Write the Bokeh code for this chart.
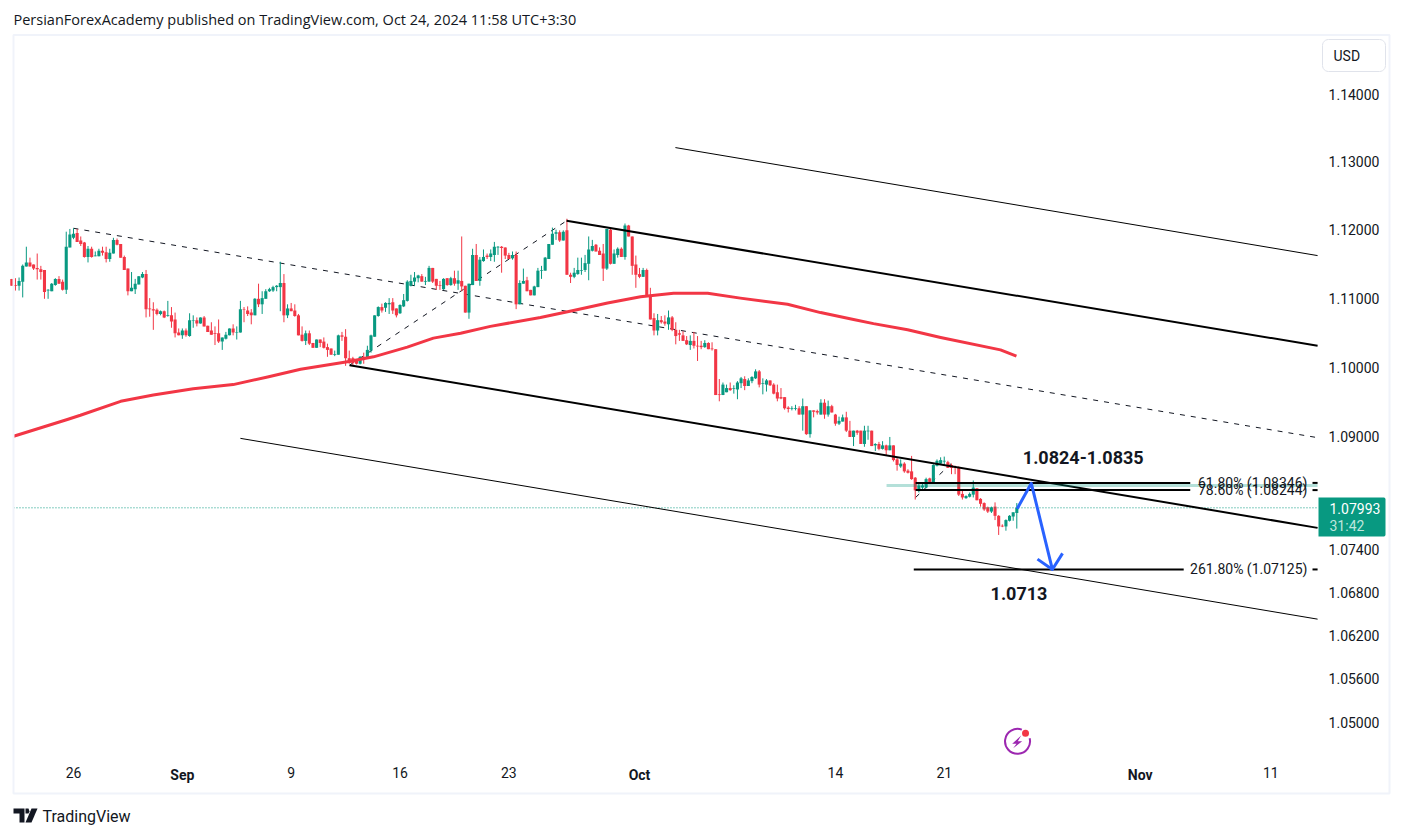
from bokeh.plotting import figure
from bokeh.models import Range1d, FixedTicker, PrintfTickFormatter, Label, PolyAnnotation, ColumnDataSource, LinearAxis
from bokeh.core.properties import value
from bokeh.embed import file_html
from bokeh.resources import INLINE
import math

# EUR/USD 4h candles, values in pips (1.1128 -> 11128); first candle is index -17
FIRST_INDEX = -17
open_pips = [11128,
 11119,11118,11124,11146,11152,11149,11144,11142,11141,11111,
 11110,11119,11128,11124,11112,11174,11188,11195,11184,11181,
 11160,11172,11161,11161,11169,11167,11157,11165,11185,11179,
 11160,11143,11110,11113,11120,11130,11135,11085,11084,11083,
 11077,11081,11074,11075,11069,11050,11046,11053,11045,11067,
 11068,11063,11072,11060,11053,11049,11049,11037,11041,11046,
 11056,11050,11050,11084,11082,11079,11075,11099,11091,11099,
 11110,11111,11116,11116,11122,11075,11085,11082,11075,11047,
 11038,11049,11035,11028,11040,11037,11029,11027,11018,11018,
 11046,11044,11013,11013,11010,11005,11015,11013,11024,11044,
 11074,11087,11086,11091,11094,11085,11078,11088,11096,11118,
 11124,11129,11132,11124,11124,11144,11128,11119,11113,11129,
 11119,11129,11121,11125,11118,11079,11119,11163,11125,11154,
 11162,11160,11163,11174,11175,11174,11163,11158,11163,11091,
 11121,11126,11112,11104,11116,11140,11140,11157,11178,11194,
 11196,11184,11199,11134,11131,11135,11140,11141,11150,11169,
 11178,11169,11165,11143,11200,11150,11163,11172,11160,11206,
 11190,11149,11135,11131,11141,11103,11071,11053,11068,11066,
 11062,11072,11054,11049,11046,11039,11032,11038,11031,11031,
 11029,11035,11027,11026,10961,10960,10964,10970,10969,10968,
 10977,10983,10973,10980,10984,10994,10976,10975,10981,10975,
 10964,10957,10957,10942,10940,10940,10941,10932,10944,10904,
 10938,10937,10932,10949,10932,10944,10932,10919,10922,10928,
 10909,10900,10909,10909,10890,10908,10909,10888,10890,10883,
 10888,10881,10888,10868,10858,10862,10852,10851,10842,10823,
 10828,10828,10841,10835,10859,10862,10865,10864,10860,10857,
 10857,10819,10813,10815,10818,10827,10812,10806,10800,10794,
 10801,10788,10774,10773,10781,10787,10792]
high_pips = [11128,
 11129,11130,11149,11175,11159,11149,11165,11147,11141,11113,
 11122,11129,11132,11127,11197,11201,11202,11201,11190,11182,
 11176,11175,11168,11172,11175,11175,11172,11188,11187,11179,
 11162,11143,11138,11128,11132,11138,11141,11100,11094,11085,
 11082,11082,11096,11087,11079,11056,11056,11056,11078,11075,
 11072,11072,11074,11060,11065,11059,11069,11043,11051,11056,
 11062,11059,11096,11087,11088,11084,11100,11121,11110,11113,
 11115,11118,11119,11153,11135,11091,11093,11091,11077,11059,
 11053,11053,11035,11040,11040,11043,11034,11027,11024,11047,
 11051,11055,11024,11015,11011,11016,11021,11031,11047,11075,
 11088,11092,11094,11100,11100,11085,11091,11106,11126,11134,
 11138,11134,11135,11131,11147,11144,11128,11125,11129,11129,
 11131,11140,11140,11190,11118,11121,11172,11179,11160,11171,
 11165,11171,11182,11176,11176,11174,11166,11168,11168,11126,
 11143,11131,11112,11118,11144,11147,11160,11179,11203,11200,
 11199,11199,11216,11137,11144,11159,11159,11163,11190,11185,
 11179,11174,11179,11201,11201,11171,11174,11174,11209,11207,
 11190,11162,11144,11144,11143,11115,11078,11077,11074,11075,
 11082,11074,11065,11054,11052,11045,11046,11051,11045,11038,
 11039,11036,11036,11026,10983,10978,10975,10978,10974,10980,
 10986,10987,10984,10987,10997,10996,10984,10983,10981,10977,
 10975,10970,10957,10944,10944,10946,10944,10955,10944,10938,
 10938,10939,10954,10954,10952,10946,10933,10929,10932,10936,
 10923,10909,10910,10909,10916,10916,10909,10891,10893,10894,
 10889,10900,10888,10870,10868,10864,10854,10873,10843,10833,
 10835,10842,10842,10861,10868,10871,10872,10866,10862,10859,
 10858,10824,10817,10821,10838,10827,10813,10807,10801,10801,
 10807,10789,10776,10783,10789,10793,10806]
low_pips = [11118,
 11111,11111,11101,11146,11146,11141,11127,11127,11099,11099,
 11110,11118,11121,11111,11106,11174,11186,11182,11176,11159,
 11152,11159,11161,11161,11162,11152,11153,11165,11177,11159,
 11141,11104,11110,11106,11120,11129,11072,11073,11054,11075,
 11075,11071,11073,11057,11043,11046,11041,11044,11044,11057,
 11059,11063,11059,11051,11047,11032,11035,11025,11040,11046,
 11046,11040,11050,11065,11074,11062,11075,11087,11077,11099,
 11109,11109,11110,11081,11065,11071,11081,11073,11046,11037,
 11032,11032,11028,11028,11029,11027,11015,11018,11016,11018,
 11038,11002,11005,11003,11004,11004,11005,11012,11021,11044,
 11073,11079,11080,11077,11077,11072,11077,11087,11095,11117,
 11118,11123,11124,11119,11124,11122,11112,11112,11112,11118,
 11118,11118,11112,11110,11079,11070,11119,11125,11118,11153,
 11157,11154,11153,11163,11137,11157,11157,11156,11084,11091,
 11121,11110,11104,11104,11116,11128,11140,11157,11178,11185,
 11182,11184,11134,11122,11129,11134,11134,11138,11126,11168,
 11168,11163,11125,11141,11149,11150,11159,11160,11156,11190,
 11134,11115,11129,11131,11102,11069,11046,11046,11063,11060,
 11054,11052,11033,11038,11038,11032,11025,11027,11009,11026,
 11028,11026,11024,10960,10951,10960,10964,10966,10962,10954,
 10970,10967,10973,10977,10983,10971,10961,10965,10973,10961,
 10951,10954,10939,10935,10938,10938,10932,10909,10903,10899,
 10928,10932,10932,10926,10929,10935,10916,10917,10922,10907,
 10900,10887,10903,10890,10886,10896,10887,10880,10881,10882,
 10874,10881,10865,10852,10856,10849,10848,10839,10811,10821,
 10826,10827,10834,10834,10858,10860,10860,10856,10847,10847,
 10816,10811,10812,10814,10814,10810,10801,10795,10792,10792,
 10782,10761,10772,10767,10780,10781,10770]
close_pips = [11118,
 11118,11125,11147,11152,11146,11143,11142,11138,11109,11112,
 11121,11128,11121,11112,11175,11193,11194,11182,11179,11160,
 11172,11160,11162,11169,11166,11157,11166,11185,11178,11159,
 11141,11110,11115,11121,11132,11135,11084,11084,11082,11077,
 11081,11072,11075,11066,11049,11046,11053,11046,11068,11068,
 11063,11072,11059,11051,11047,11048,11037,11043,11047,11056,
 11050,11051,11084,11083,11077,11075,11099,11091,11100,11110,
 11113,11116,11118,11122,11075,11085,11081,11074,11046,11038,
 11049,11034,11028,11040,11035,11028,11025,11018,11019,11046,
 11044,11013,11006,11006,11005,11015,11013,11025,11046,11075,
 11087,11082,11093,11093,11082,11075,11090,11097,11124,11125,
 11130,11133,11124,11125,11144,11124,11118,11118,11128,11119,
 11129,11121,11126,11117,11079,11121,11163,11125,11156,11160,
 11160,11165,11175,11175,11173,11162,11157,11163,11091,11122,
 11125,11110,11104,11117,11140,11141,11159,11179,11194,11196,
 11184,11197,11134,11131,11137,11141,11141,11151,11171,11176,
 11168,11163,11143,11201,11150,11165,11172,11160,11206,11190,
 11147,11134,11131,11141,11102,11069,11053,11068,11065,11063,
 11072,11054,11045,11047,11038,11033,11038,11031,11030,11029,
 11035,11026,11026,10960,10960,10975,10970,10967,10970,10978,
 10984,10973,10981,10986,10994,10975,10977,10981,10974,10962,
 10955,10955,10941,10940,10941,10941,10932,10944,10904,10938,
 10936,10935,10949,10932,10944,10935,10919,10923,10928,10909,
 10900,10909,10906,10890,10909,10909,10887,10890,10883,10888,
 10881,10888,10867,10860,10862,10851,10849,10840,10824,10831,
 10831,10840,10836,10860,10866,10867,10866,10856,10856,10856,
 10818,10814,10816,10819,10828,10810,10805,10797,10794,10800,
 10788,10773,10773,10782,10788,10793,10799.3]

# moving average, read at a few bars
ema_bar = [-16.5,-1.7,1.9,13,22,33,44,53.5,62.6,75.5,82.7,92,99.2,106.7,114.9,128.7,137.8,147.2,156.3,165.4,174.8,183.8,196.8,205.9,215,220.5,229.9,239,255.5,259.9]
ema_price = [1.0901,1.0925,1.0931,1.0951,1.0960,1.0969,1.0975,1.0986,1.0997,1.1008,1.1015,1.1029,1.1042,1.1049,1.1059,1.1072,1.1082,1.1093,1.1102,1.1107,1.1107,1.1100,1.1091,1.1079,1.1069,1.1063,1.1054,1.1043,1.1025,1.1016]

LAST_BAR = 342.9
FIRST_BAR = -16.54
# trend lines: bar0, price0, bar1, price1
channel_top_thin = (165.9, 1.1321, LAST_BAR, 1.1162)
channel_top = (135.9, 1.1213, LAST_BAR, 1.1031)
channel_bottom = (76.1, 1.1003, LAST_BAR, 1.0771)
channel_bottom_thin = (46.0, 1.0898, LAST_BAR, 1.0643)
median_dashed = (0, 1.1202, LAST_BAR, 1.0899)
swing_dashed = (76.1, 1.1003, 135.9, 1.1213)
fib_swing_dashed = (232.1, 1.0814, 242.3, 1.0864)

last_price = 1.07993
fib_levels = [1.08346, 1.08244, 1.07125]
fib_texts = ["61.80% (1.08346)", "78.60% (1.08244)", "261.80% (1.07125)"]
fib_starts = [232.1, 232.1, 231.6]
fib_ends = [307.8, 307.8, 306.0]
zone_price = 1.0831
zone_start = 224.1

arrow_bar = [260.1, 264.0, 269.8]
arrow_price = [1.0798, 1.0834, 1.07125]
head_bar = [265.7, 269.8, 272.6]
head_price = [1.0727, 1.07125, 1.0735]

day_ticks = [0, 60, 90, 120, 210, 240, 330]
day_labels = ["26", "9", "16", "23", "14", "21", "11"]
month_ticks = [30, 156, 294]
month_labels = ["Sep", "Oct", "Nov"]
y_ticks = [1.14, 1.13, 1.12, 1.11, 1.10, 1.09, 1.074, 1.068, 1.062, 1.056, 1.05]

UP = "#089981"
DOWN = "#f23645"
INK = "#131722"
FONT = "Roboto"
AXIS_PRICE = 1.0455

p = figure(width=1394, height=829, output_backend="svg", toolbar_location=None,
           y_axis_type="log", y_axis_location="right",
           x_range=Range1d(-20.12, 364.1), y_range=Range1d(1.03538, 1.15412),
           min_border_left=0, min_border_right=0, min_border_top=0, min_border_bottom=0)
p.outline_line_color = None
p.grid.visible = False
p.background_fill_color = "white"

p.xaxis.ticker = FixedTicker(ticks=day_ticks)
p.xaxis.major_label_overrides = dict(zip(day_ticks, day_labels))
p.yaxis.ticker = FixedTicker(ticks=y_ticks)
p.yaxis.formatter = PrintfTickFormatter(format="%.5f")
p.xaxis.fixed_location = AXIS_PRICE
p.yaxis.fixed_location = LAST_BAR
month_axis = LinearAxis(ticker=FixedTicker(ticks=month_ticks),
                        major_label_overrides=dict(zip(month_ticks, month_labels)),
                        fixed_location=AXIS_PRICE, major_label_text_font_style="bold")
p.add_layout(month_axis, "below")
for ax in (p.xaxis[0], p.yaxis[0], month_axis):
    ax.axis_line_color = None
    ax.major_tick_line_color = None
    ax.minor_tick_line_color = None
    ax.major_label_text_font = FONT
    ax.major_label_text_font_size = "14px"
    ax.major_label_text_color = INK
p.yaxis.major_label_standoff = 5
p.xaxis[0].major_label_standoff = 6
month_axis.major_label_standoff = 6

PIP = 1e-4
bars = [FIRST_INDEX + i for i in range(len(open_pips))]
colors = [UP if c >= o else DOWN for o, c in zip(open_pips, close_pips)]
src = ColumnDataSource(dict(
    x=bars,
    hi=[v * PIP for v in high_pips], lo=[v * PIP for v in low_pips],
    top=[max(o, c) * PIP for o, c in zip(open_pips, close_pips)],
    bot=[min(o, c) * PIP for o, c in zip(open_pips, close_pips)],
    col=colors))


def seg(t, color="black", width=1.0, dash="solid"):
    p.line([t[0], t[2]], [t[1], t[3]], line_color=color, line_width=width, line_dash=dash)


seg(median_dashed, INK, 1, "5 6")
seg(swing_dashed, INK, 1, "5 6")
seg(fib_swing_dashed, INK, 1, "5 6")

p.segment("x", "hi", "x", "lo", source=src, line_color="col", line_width=1)
p.vbar("x", 0.85, "top", "bot", source=src, fill_color="col", line_color=None)

p.line([FIRST_BAR, LAST_BAR], [last_price, last_price], line_color=UP, line_width=1, line_dash="1 2")
p.line(ema_bar, ema_price, line_color=DOWN, line_width=3, line_join="round")

seg(channel_top_thin)
seg(channel_top, width=2)
seg(channel_bottom, width=2)
seg(channel_bottom_thin)

for lvl, s, e in zip(fib_levels, fib_starts, fib_ends):
    p.line([s, e], [lvl, lvl], line_color="black", line_width=2)
    p.line([341.5, LAST_BAR], [lvl, lvl], line_color="black", line_width=2)
p.line([zone_start, LAST_BAR], [zone_price, zone_price], line_color=UP, line_alpha=0.3, line_width=3)

p.text([340.1] * 3, fib_levels, text=fib_texts, text_align="right", text_baseline="middle",
       text_font=value(FONT), text_font_size="14px", text_color=INK)

p.line(arrow_bar, arrow_price, line_color="#2962ff", line_width=3, line_join="round")
p.line(head_bar, head_price, line_color="#2962ff", line_width=3, line_join="round")

p.text([278.3], [1.0871], text=["1.0824-1.0835"], text_align="center", text_baseline="middle",
       text_font=value(FONT), text_font_size="18px", text_font_style="bold", text_color=INK)
p.text([260.6], [1.0679], text=["1.0713"], text_align="center", text_baseline="middle",
       text_font=value(FONT), text_font_size="18px", text_font_style="bold", text_color=INK)

# icon at the foot of the pane
p.arc([260.2], [1.0474], radius=12.5, radius_units="screen", start_angle=1.22, end_angle=0.26,
      line_color="#9c27b0", line_width=2)
p.scatter([262.4], [1.0485], marker="circle", size=7, fill_color=DOWN, line_color=None)


def poly(pts, fill=None, line=None, width=1.0):
    p.add_layout(PolyAnnotation(xs=[a for a, _ in pts], ys=[b for _, b in pts],
                                xs_units="canvas", ys_units="canvas",
                                fill_color=fill or "white", fill_alpha=1 if fill else 0,
                                line_color=line or "white", line_alpha=1 if line else 0,
                                line_width=width))


def label(text, x, y, size="14px", color=INK, style="normal", font=FONT):
    p.add_layout(Label(text=text, x=x, y=y, x_units="canvas", y_units="canvas",
                       text_font=font, text_font_size=size, text_color=color,
                       text_baseline="middle", text_font_style=style))


def rrect(x0, y0, x1, y1, rl, rr):
    pts = []
    for (ccx, ccy, r, a0) in ((x1 - rr, y0 + rr, rr, -90), (x1 - rr, y1 - rr, rr, 0),
                              (x0 + rl, y1 - rl, rl, 90), (x0 + rl, y0 + rl, rl, 180)):
        for k in range(7):
            a = math.radians(a0 + 15 * k)
            pts.append((ccx + r * math.cos(a), ccy + r * math.sin(a)))
    return pts


# pane border
poly([(13, 34.5), (1389, 34.5), (1389, 793), (13, 793)], line="#f0f3fa", width=2)
# bolt
poly([(1020.7, 735), (1011.7, 743.3), (1016, 743.3), (1012.7, 747.7), (1021.7, 740.7), (1017.3, 740.7)], fill="#9c27b0")
# last-price tag
poly(rrect(1318, 497, 1385, 536, 0, 2), fill=UP)
label("1.07993", 1329, 508, color="white")
label("31:42", 1329, 525, color="#bfe6dd")
# currency button
poly(rrect(1322, 39, 1385, 71, 6, 6), line="#e0e3eb", width=1)
label("USD", 1333, 55)
# header and footer
label("PersianForexAcademy published on TradingView.com, Oct 24, 2024 11:58 UTC+3:30", 13, 19, size="14.5px", font="Open Sans")
label("TradingView", 42, 816, size="16px")
poly([(13, 808), (24, 808), (24, 822), (19, 822), (19, 813), (13, 813)], fill=INK)
poly([(31, 808), (37, 808), (31, 822), (25, 822)], fill=INK)
poly([(25, 808), (28, 808), (29, 811), (28, 813), (25, 813)], fill=INK)

open("out.html", "w").write(file_html(p, INLINE))
